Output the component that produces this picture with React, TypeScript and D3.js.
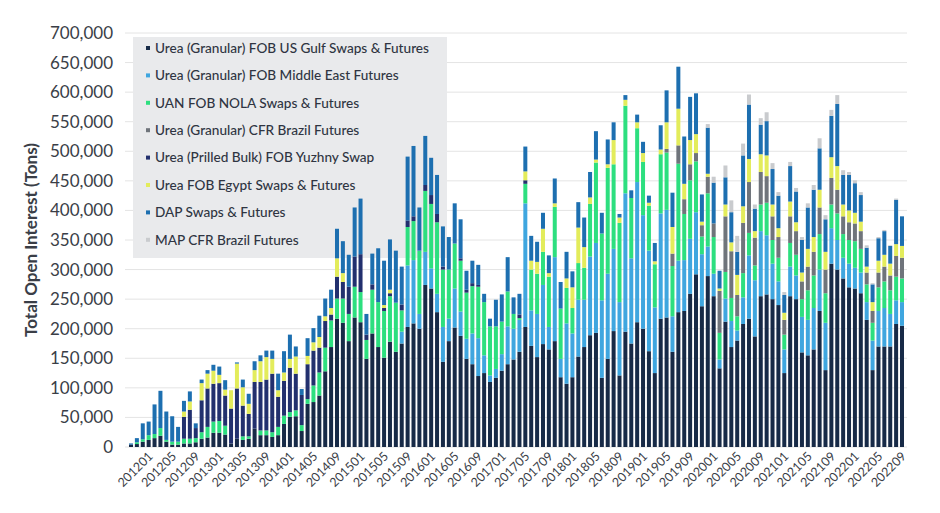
import React from "react";
import * as d3 from "d3";

// Months 2011-10 .. 2022-09 (132 categories)
const years = [2011, 2012, 2013, 2014, 2015, 2016, 2017, 2018, 2019, 2020, 2021, 2022];
const months: string[] = [];
years.forEach((yr) => {
  for (let m = 1; m <= 12; m++) {
    const key = `${yr}${m < 10 ? "0" + m : m}`;
    if (key >= "201110" && key <= "202209") months.push(key);
  }
});

const tickLabels = [
  "201201", "201205", "201209", "201301", "201305", "201309", "201401", "201405", "201409",
  "201501", "201505", "201509", "201601", "201605", "201609", "201701", "201705", "201709",
  "201801", "201805", "201809", "201901", "201905", "201909", "202001", "202005", "202009",
  "202101", "202105", "202109", "202201", "202205", "202209",
];

const yTicks = [0, 50000, 100000, 150000, 200000, 250000, 300000, 350000, 400000, 450000, 500000, 550000, 600000, 650000, 700000];

// values in thousand tons
const usGulf = [4,5,9,12,15,19,9,4,4,6,6,8,14,16,24,24,21,6,14,12,14,31,20,20,17,20,39,51,52,27,73,76,87,128,169,217,210,179,219,211,149,192,169,151,178,161,175,203,209,200,274,268,228,144,179,202,188,149,140,120,125,110,117,129,140,148,161,203,171,152,174,165,179,118,107,118,153,169,189,193,117,149,196,121,195,175,211,200,162,125,217,219,161,228,230,259,292,238,289,255,133,212,169,180,208,217,187,255,258,250,240,125,255,250,160,155,165,230,130,310,300,285,270,268,260,215,130,170,170,170,208,205];
const middleEast = [0,0,0,0,0,0,0,0,0,0,0,0,0,0,0,0,0,0,0,0,0,0,0,0,0,0,0,0,0,0,0,0,0,0,0,0,0,0,0,0,0,0,0,0,0,0,20,104,107,25,56,34,31,59,38,66,41,34,52,64,30,11,15,28,64,52,54,209,60,73,100,38,142,31,102,74,96,80,133,152,131,144,139,124,234,144,237,192,170,111,178,182,60,87,86,93,105,88,50,38,15,39,44,17,45,107,95,110,100,60,40,40,50,40,60,60,70,70,80,60,50,35,40,35,35,30,50,60,65,55,40,40];
const uanNola = [0,3,4,8,7,13,3,5,5,8,8,7,11,18,19,20,15,0,0,6,4,0,8,8,8,14,14,8,10,10,8,28,39,40,45,34,41,46,52,51,32,74,76,79,77,83,36,65,66,107,103,109,121,97,83,76,86,78,80,87,90,83,72,55,59,25,3,33,69,68,56,85,85,85,60,43,62,54,89,136,113,179,143,134,148,102,91,90,76,73,100,97,85,164,78,99,86,30,90,62,45,45,39,24,41,38,25,45,55,40,40,25,40,35,30,50,55,60,50,40,45,40,40,45,40,30,30,40,45,40,40,40];
const brazil = [0,0,0,0,0,0,0,0,0,0,0,0,0,0,0,0,0,0,0,0,0,0,0,0,0,0,0,0,0,0,0,0,0,0,0,0,0,0,0,0,0,0,0,0,0,0,0,0,0,0,0,0,0,0,0,0,0,0,0,0,0,0,0,0,0,0,0,0,0,0,0,0,0,0,0,0,0,0,0,0,0,0,0,0,0,0,0,0,0,0,0,6,21,31,25,27,14,19,28,23,71,94,79,36,85,86,47,55,45,40,35,25,45,40,30,40,40,45,40,45,40,30,30,30,30,20,20,25,25,25,35,35];
const yuzhny = [0,0,0,0,0,0,0,0,0,37,49,17,54,65,64,64,51,59,85,52,38,79,82,86,99,51,59,75,62,51,59,59,42,45,10,37,28,46,51,64,9,9,0,5,5,0,10,11,8,0,10,15,14,5,0,0,4,5,5,3,0,0,0,0,0,0,6,6,0,0,0,0,0,0,0,0,0,0,0,0,0,0,0,0,0,0,0,0,0,0,0,0,0,0,0,0,0,0,0,0,0,0,0,0,0,0,0,0,0,0,0,0,0,0,0,0,0,0,0,0,0,0,0,0,0,0,0,0,0,0,0,0];
const egypt = [0,0,0,0,0,0,0,0,0,9,14,0,29,25,22,14,10,31,42,31,17,20,35,38,25,11,14,15,29,0,14,14,18,8,11,31,15,0,0,0,0,0,0,5,6,0,0,0,0,0,0,0,0,0,0,0,0,0,0,0,0,0,0,0,0,0,0,15,15,20,39,6,6,0,16,35,60,35,11,5,0,6,41,9,10,0,10,15,5,5,8,45,45,62,26,41,32,6,5,0,4,20,15,34,28,39,11,30,35,20,15,12,25,15,15,30,25,30,30,35,40,20,20,18,16,10,15,20,20,20,20,20];
const dap = [2,7,27,23,50,63,48,43,25,18,17,8,6,6,10,14,16,0,2,13,17,15,10,11,14,28,36,41,17,10,30,24,36,30,31,50,54,54,83,94,35,52,91,75,85,88,64,108,119,73,83,63,66,68,55,68,66,32,38,34,14,13,45,46,58,28,35,42,42,34,27,30,42,45,45,27,43,50,43,48,35,42,30,6,8,13,13,19,12,31,41,54,58,71,80,73,69,46,78,69,30,46,51,39,86,92,38,50,58,60,55,30,60,52,55,70,80,70,55,70,105,50,60,50,45,32,30,38,40,30,75,50];
const mapBrazil = [0,0,0,0,0,0,0,0,0,0,0,0,0,0,0,0,0,0,0,0,0,0,0,0,0,0,0,0,0,0,0,0,0,0,0,0,0,0,0,0,0,0,0,0,0,0,0,0,0,0,0,0,0,0,0,0,0,0,0,0,0,0,0,0,0,0,0,0,0,0,0,0,0,0,0,0,0,0,0,0,0,0,0,0,0,0,0,0,0,0,0,0,0,0,0,0,0,0,6,10,0,20,20,27,20,17,7,11,15,10,6,5,7,6,5,7,8,17,7,10,15,8,5,5,5,4,2,2,2,1,2,0];

const seriesNames = [
  "Urea (Granular) FOB US Gulf Swaps & Futures",
  "Urea (Granular) FOB Middle East Futures",
  "UAN FOB NOLA Swaps & Futures",
  "Urea (Granular) CFR Brazil Futures",
  "Urea (Prilled Bulk) FOB Yuzhny Swap",
  "Urea FOB Egypt Swaps & Futures",
  "DAP Swaps & Futures",
  "MAP CFR Brazil Futures",
];
const seriesData = [usGulf, middleEast, uanNola, brazil, yuzhny, egypt, dap, mapBrazil];
const colors = ["#172a47", "#3fa6df", "#2ddf7f", "#6f747b", "#22306e", "#e3ec5b", "#1d6fb0", "#c9cbce"];

const W = 940;
const H = 513;
const FONT = "Lato, 'Noto Sans', sans-serif";

export default function App() {
  const keys = seriesNames.map((_, i) => `s${i}`);
  const rows = months.map((m, j) => {
    const r: any = { month: m };
    keys.forEach((k, i) => (r[k] = (seriesData[i][j] || 0) * 1000));
    return r;
  });
  const stacked = d3.stack<any>().keys(keys)(rows);

  const x = d3.scaleBand<string>().domain(months).range([129, 904]).paddingInner(0.32).paddingOuter(0);
  const y = d3.scaleLinear().domain([0, 700000]).range([447, 33]);
  const fmt = d3.format(",");

  return (
    <svg width={W} height={H} style={{ position: "absolute", left: 0, top: 0, background: "#fff" }} fontFamily={FONT}>
      {yTicks.map((t) => (
        <g key={t}>
          <line x1={125} x2={907} y1={y(t)} y2={y(t)} stroke="#e4e4e4" strokeWidth={1} />
          <text x={113} y={y(t)} dy="0.35em" textAnchor="end" fontSize={17} fill="#3a3e47">
            {fmt(t)}
          </text>
        </g>
      ))}
      <text transform={`translate(37,240) rotate(-90)`} textAnchor="middle" fontSize={17} fontWeight={700} fill="#3a3e47">
        Total Open Interest (Tons)
      </text>

      <rect x={133} y={37} width={314} height={221} fill="#e9eaec" />

      {stacked.map((layer, li) => (
        <g key={layer.key} fill={colors[li]}>
          {layer.map((d, j) => {
            const h = y(d[0]) - y(d[1]);
            if (h <= 0) return null;
            return <rect key={j} x={x(months[j])} y={y(d[1])} width={x.bandwidth()} height={h} />;
          })}
        </g>
      ))}

      {tickLabels.map((t) => {
        const cx = (x(t) ?? 0) + x.bandwidth() / 2;
        return (
          <text key={t} transform={`translate(${cx + 5},457) rotate(-45)`} textAnchor="end" fontSize={12.5} fill="#3a3e47">
            {t}
          </text>
        );
      })}

      {seriesNames.map((n, i) => {
        const ly = 48 + i * 27.4;
        return (
          <g key={n}>
            <rect x={146} y={ly - 2} width={4} height={4} fill={colors[i]} />
            <text x={155} y={ly} dy="0.35em" fontSize={13.6} fontWeight={500} fill="#2f3542">
              {n}
            </text>
          </g>
        );
      })}
    </svg>
  );
}
